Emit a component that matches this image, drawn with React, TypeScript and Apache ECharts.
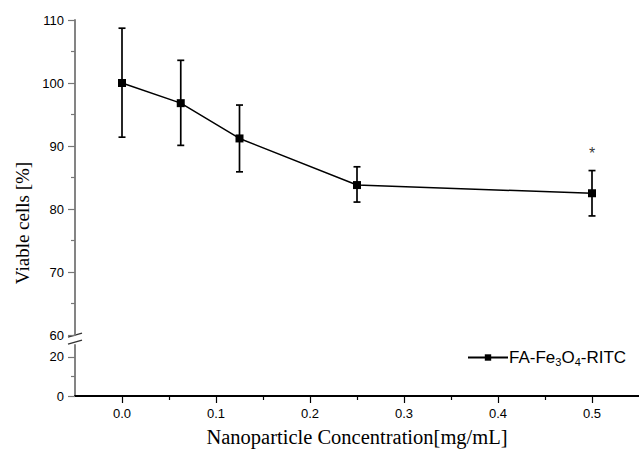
import React, { useEffect, useRef } from "react";
import * as echarts from "echarts";

const concentrations = [0, 0.0625, 0.125, 0.25, 0.5];
const viability = [100, 96.8, 91.2, 83.8, 82.5];
const errorLow = [91.4, 90.1, 85.9, 81.1, 78.9];
const errorHigh = [108.7, 103.6, 96.5, 86.7, 86.1];
const sigX = [0.5];
const sigY = [89.3];
const sigMark = ["*"];
const xTickLabels = [0, 0.1, 0.2, 0.3, 0.4, 0.5];
const xMinorTicks = [0.05, 0.15, 0.25, 0.35, 0.45];
const lowerYLabels = [0, 20];
const lowerYMinor = [10];
const seriesName = "FA-Fe3O4-RITC";
const xTitle = "Nanoparticle Concentration[mg/mL]";
const yTitle = "Viable cells [%]";

const sans = "Liberation Sans";
const serif = "Liberation Serif";

export default function App() {
  const ref = useRef<HTMLDivElement>(null);
  useEffect(() => {
    if (!ref.current) return;
    const chart = echarts.init(ref.current, null, { renderer: "svg" });
    const lineData = concentrations.map((c, i) => [c, viability[i]]);
    const errData = concentrations.map((c, i) => [c, errorLow[i], errorHigh[i]]);
    const sigData = sigX.map((x, i) => [x, sigY[i], sigMark[i]]);
    const axisLabelStyle = { fontFamily: sans, fontSize: 13, color: "#000" };
    const yAxisColor = "#777";
    const option: any = {
      animation: false,
      backgroundColor: "#fff",
      grid: [
        { left: 75, right: 0, top: 20, height: 315, outerBoundsMode: "none", containLabel: false },
        { left: 75, right: 0, top: 345, height: 51, outerBoundsMode: "none", containLabel: false },
      ],
      xAxis: [
        {
          type: "value", gridIndex: 0, min: -0.05, max: 0.55,
          show: false, splitLine: { show: false },
        },
        {
          type: "value", gridIndex: 1, min: -0.05, max: 0.55,
          axisLine: { show: true, onZero: false, lineStyle: { color: "#000", width: 2 } },
          axisTick: { show: true, customValues: xTickLabels, length: 7, lineStyle: { color: "#000", width: 1.2 } },
          axisLabel: { customValues: xTickLabels, formatter: (v: number) => v.toFixed(1), margin: 11, ...axisLabelStyle },
          splitLine: { show: false },
        },
        {
          type: "value", gridIndex: 1, min: -0.05, max: 0.55, position: "bottom",
          axisLine: { show: false, onZero: false },
          axisTick: { show: true, customValues: xMinorTicks, length: 4, lineStyle: { color: "#000", width: 1.2 } },
          axisLabel: { show: false },
          splitLine: { show: false },
        },
      ],
      yAxis: [
        {
          type: "value", gridIndex: 0, min: 60, max: 110, interval: 10,
          axisLine: { show: true, onZero: false, lineStyle: { color: yAxisColor, width: 1.8 } },
          axisTick: { show: true, length: 7, lineStyle: { color: yAxisColor, width: 1.2 } },
          minorTick: { show: true, splitNumber: 2, length: 4, lineStyle: { color: yAxisColor, width: 1.2 } },
          axisLabel: { margin: 11, ...axisLabelStyle },
          splitLine: { show: false },
        },
        {
          type: "value", gridIndex: 1, min: 0, max: 26,
          axisLine: { show: true, onZero: false, lineStyle: { color: yAxisColor, width: 1.8 } },
          axisTick: { show: true, customValues: lowerYLabels, length: 7, lineStyle: { color: yAxisColor, width: 1.2 } },
          axisLabel: { customValues: lowerYLabels, margin: 11, ...axisLabelStyle },
          splitLine: { show: false },
        },
        {
          type: "value", gridIndex: 1, min: 0, max: 26, position: "left",
          axisLine: { show: false, onZero: false },
          axisTick: { show: true, customValues: lowerYMinor, length: 4, lineStyle: { color: yAxisColor, width: 1.2 } },
          axisLabel: { show: false },
          splitLine: { show: false },
        },
      ],
      legend: {
        left: 462, top: 344,
        itemWidth: 40, itemHeight: 8, itemGap: 0,
        data: [seriesName],
        formatter: () => "FA-Fe{sub|3}O{sub|4}-RITC",
        textStyle: {
          fontFamily: sans, fontSize: 17, color: "#000", padding: [0, 0, 0, -4],
          rich: { sub: { fontFamily: sans, fontSize: 11, padding: [9, 0, 0, 0] } },
        },
      },
      series: [
        {
          type: "custom", name: "err", xAxisIndex: 0, yAxisIndex: 0,
          data: errData, encode: { x: 0, y: [1, 2] }, silent: true, z: 3,
          renderItem: (params: any, api: any) => {
            const x = api.value(0);
            const pLo = api.coord([x, api.value(1)]);
            const pHi = api.coord([x, api.value(2)]);
            const w = 3.5;
            const st = { stroke: "#000", lineWidth: 1.7 };
            return {
              type: "group",
              children: [
                { type: "line", shape: { x1: pHi[0], y1: pHi[1], x2: pLo[0], y2: pLo[1] }, style: st },
                { type: "line", shape: { x1: pHi[0] - w, y1: pHi[1], x2: pHi[0] + w, y2: pHi[1] }, style: st },
                { type: "line", shape: { x1: pLo[0] - w, y1: pLo[1], x2: pLo[0] + w, y2: pLo[1] }, style: st },
              ],
            };
          },
        },
        {
          type: "line", name: seriesName, xAxisIndex: 0, yAxisIndex: 0,
          data: lineData, symbol: "rect", symbolSize: 8, z: 4,
          lineStyle: { color: "#000", width: 1.5 },
          itemStyle: { color: "#000" },
        },
        {
          type: "scatter", name: "sig", xAxisIndex: 0, yAxisIndex: 0,
          data: sigData, symbolSize: 0, silent: true,
          itemStyle: { color: "#000" },
          label: {
            show: true, position: "inside", offset: [0, 3], formatter: (p: any) => p.data[2],
            fontFamily: sans, fontSize: 16, color: "#000",
          },
        },
      ],
      graphic: [
        {
          type: "text", x: 22, y: 223, rotation: Math.PI / 2,
          style: {
            text: yTitle, fontFamily: serif, fontSize: 19, fill: "#000",
            textAlign: "center", textVerticalAlign: "middle",
          },
        },
        {
          type: "text", x: 357, y: 437,
          style: {
            text: xTitle, fontFamily: serif, fontSize: 20.5, fill: "#000",
            textAlign: "center", textVerticalAlign: "middle",
          },
        },
        { type: "line", shape: { x1: 68, y1: 337, x2: 82, y2: 333 }, style: { stroke: "#333", lineWidth: 1.3 } },
        { type: "line", shape: { x1: 68, y1: 344, x2: 82, y2: 340 }, style: { stroke: "#333", lineWidth: 1.3 } },
      ],
    };
    chart.setOption(option);
    return () => chart.dispose();
  }, []);
  return (
    <div
      ref={ref}
      style={{ position: "absolute", left: 0, top: 0, width: 639, height: 450, background: "#fff" }}
    />
  );
}
